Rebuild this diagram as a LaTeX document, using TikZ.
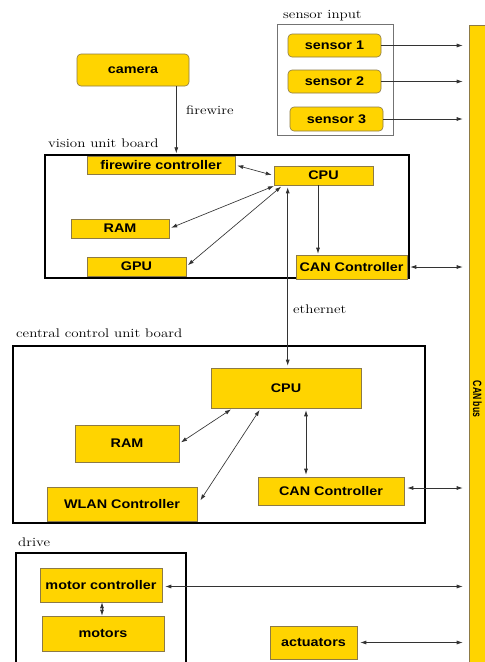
\documentclass[tikz,border=0pt]{standalone}
\usepackage{fontspec}
\setmainfont[FakeStretch=1.2]{Latin Modern Roman}
\newfontfamily\boxfont[FakeStretch=1.15]{Liberation Sans}
\newfontfamily\busfont[FakeStretch=0.72]{Liberation Sans}
\usetikzlibrary{arrows.meta,calc}
\definecolor{canyellow}{RGB}{255,212,0}
\definecolor{boxedge}{RGB}{140,122,70}
\tikzset{
  ybox/.style={draw=boxedge, fill=canyellow, line width=0.6pt, inner sep=0pt,
    font=\boxfont\bfseries\fontsize{12.5}{14}\selectfont},
  rbox/.style={ybox, rounded corners=4pt},
  group/.style={draw=black, line width=1.3pt, inner sep=0pt},
  sgroup/.style={draw=black!55, line width=0.7pt, inner sep=0pt},
  lbl/.style={font=\fontsize{12.5}{14}\selectfont, anchor=base west, inner sep=0pt},
  conn/.style={draw=black!80, line width=0.65pt},
  tipl/.tip={Latex[length=6pt,width=4pt]},
  bi/.style={conn, tipl-tipl, shorten <=2pt, shorten >=2pt},
  uni/.style={conn, -tipl, shorten >=1pt},
  tobus/.style={conn, tipl-tipl, shorten <=3pt, shorten >=6pt},
  tobusuni/.style={conn, -tipl, shorten >=6pt}
}
\begin{document}
\begin{tikzpicture}[x=1pt,y=-1pt]
\useasboundingbox (0,0) rectangle (485,662);
\fill[white] (0,0) rectangle (485,662);

% CAN bus
\node[draw=boxedge, fill=canyellow, line width=0.6pt, inner sep=0pt,
  minimum width=17pt, minimum height=660pt] (bus) at (477.5,355) {};
\node[rotate=-90, font=\busfont\bfseries\fontsize{12}{13}\selectfont, inner sep=0pt] (buslbl) at (477.5,399) {CAN bus};

% sensor input
\node[sgroup, minimum width=116pt, minimum height=111pt] (sgrp) at (335,79.5) {};
\node[lbl] (slbl) at (283,18) {sensor input};
\node[rbox, minimum width=93pt, minimum height=23pt] (s1) at (334.5,45.5) {sensor 1};
\node[rbox, minimum width=93pt, minimum height=23pt] (s2) at (334.5,81.5) {sensor 2};
\node[rbox, minimum width=93pt, minimum height=24pt] (s3) at (336.5,119) {sensor 3};
\draw[tobusuni] (s1.east) -- (s1.east -| bus.west);
\draw[tobusuni] (s2.east) -- (s2.east -| bus.west);
\draw[tobusuni] (s3.east) -- (s3.east -| bus.west);

% camera
\node[rbox, minimum width=112pt, minimum height=32pt] (camera) at (133,70) {camera};

% vision unit board
\node[group, minimum width=364pt, minimum height=123pt] (vision) at (227,216.5) {};
\node[lbl] (vlbl) at (48,147) {vision unit board};
\coordinate (camdrop) at ($(camera.south east)+(-13,0)$);
\draw[uni] (camdrop) -- (camdrop |- vision.north);
\node[lbl] (fwlbl) at (186,114) {firewire};

\node[ybox, minimum width=148pt, minimum height=18pt] (fwc) at (161,165) {firewire controller};
\node[ybox, minimum width=99pt, minimum height=19pt] (vcpu) at (323.5,175.5) {CPU};
\node[ybox, minimum width=98pt, minimum height=19pt] (vram) at (120,228.5) {RAM};
\node[ybox, minimum width=99pt, minimum height=19pt] (gpu) at (136.5,266.5) {GPU};
\node[ybox, minimum width=111pt, minimum height=24pt] (vcan) at (351.5,267) {CAN Controller};

\draw[bi] (fwc.east) -- (vcpu.west);
\draw[bi] (vram.east) -- ($(vcpu.south west)+(2,0)$);
\draw[bi] (gpu.east) -- ($(vcpu.south west)+(9,0)$);
\coordinate (v1) at ($(vcpu.south)+(-5.5,0)$);
\draw[uni] (v1) -- (v1 |- vcan.north);
\draw[tobus] (vcan.east) -- (vcan.east -| bus.west);

% ethernet
\coordinate (e1) at ($(vcpu.south west)+(14,0)$);
\node[lbl] (ethlbl) at (293,313) {ethernet};

% central control unit board
\node[group, minimum width=412pt, minimum height=177pt] (central) at (219,434.5) {};
\node[lbl] (clbl) at (16,337) {central control unit board};
\node[ybox, minimum width=150pt, minimum height=40pt] (ccpu) at (286,388) {CPU};
\node[ybox, minimum width=104pt, minimum height=37pt] (cram) at (127,443.5) {RAM};
\node[ybox, minimum width=150pt, minimum height=34pt] (wlan) at (122,504) {WLAN Controller};
\node[ybox, minimum width=146pt, minimum height=28pt] (ccan) at (331,491) {CAN Controller};

\draw[bi] (e1) -- (e1 |- ccpu.north);
\draw[bi] (cram.east) -- ($(ccpu.south west)+(22,0)$);
\coordinate (wl) at ($(wlan.east)+(2,-2)$);
\draw[bi] (wl) -- ($(ccpu.south west)+(50,0)$);
\coordinate (c1) at ($(ccpu.south)+(20,0)$);
\draw[bi] (c1) -- (c1 |- ccan.north);
\coordinate (ccr) at ($(ccan.east)+(0,-3)$);
\draw[tobus] (ccr) -- (ccr -| bus.west);

% drive
\draw[group] (16,666) -- (16,553) -- (186,553) -- (186,666);
\node[lbl] (dlbl) at (18,546) {drive};
\node[ybox, minimum width=122pt, minimum height=34pt] (mc) at (101,585) {motor controller};
\node[ybox, minimum width=122pt, minimum height=35pt] (motors) at (103,633.5) {motors};
\coordinate (m1) at ($(mc.south)+(1,0)$);
\draw[conn, tipl-tipl] (m1) -- (m1 |- motors.north);
\coordinate (mcr) at ($(mc.east)+(0,1.5)$);
\draw[tobus] (mcr) -- (mcr -| bus.west);

% actuators
\node[ybox, minimum width=87pt, minimum height=33pt] (act) at (313.5,642.5) {actuators};
\draw[tobus] (act.east) -- (act.east -| bus.west);
\end{tikzpicture}
\end{document}
